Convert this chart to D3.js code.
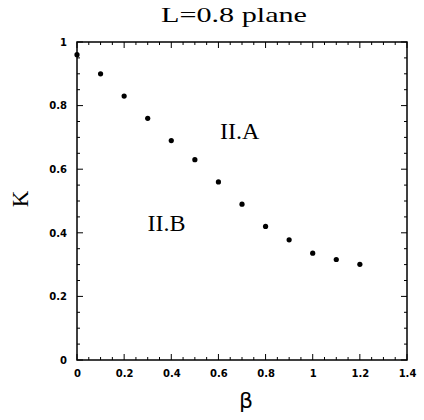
<!DOCTYPE html>
<html>
<head>
<meta charset="utf-8">
<script src="https://cdn.jsdelivr.net/npm/d3@7"></script>
<style>
  body { margin: 0; background: #fff; }
  .tick text { font-family: "DejaVu Sans", sans-serif; font-weight: bold; font-size: 10px; }
</style>
</head>
<body>
<svg id="chart"></svg>
<script>
const beta = [0, 0.1, 0.2, 0.3, 0.4, 0.5, 0.6, 0.7, 0.8, 0.9, 1.0, 1.1, 1.2];
const kValues = [0.96, 0.90, 0.83, 0.76, 0.69, 0.63, 0.56, 0.49, 0.42, 0.378, 0.336, 0.316, 0.301];
const xTicks = [0, 0.2, 0.4, 0.6, 0.8, 1, 1.2, 1.4];
const yTicks = [0, 0.2, 0.4, 0.6, 0.8, 1];
const regions = [{name: "II.A", b: 0.69, k: 0.695}, {name: "II.B", b: 0.38, k: 0.405}];

const width = 424, height = 420;
const margin = {top : 42, left : 77, bottom : 60, right : 17};

const svg = d3.select("#chart").attr("width", width).attr("height", height);

const x = d3.scaleLinear().domain([0, 1.4]).range([margin.left, width - margin.right]);
const y = d3.scaleLinear().domain([0, 1]).range([height - margin.bottom, margin.top]);

const minorX = d3.range(0, 1.4001, 0.05);
const minorY = d3.range(0, 1.0001, 0.05);
const isMajor = v => Math.abs(v * 5 - Math.round(v * 5)) < 1e-6;
const tickLen = v => isMajor(v) ? 6 : 3;

// frame
svg.append("rect")
    .attr("x", x(0)).attr("y", y(1))
    .attr("width", x(1.4) - x(0)).attr("height", y(0) - y(1))
    .attr("fill", "none").attr("stroke", "#000").attr("stroke-width", 1.5);

// inward ticks on all four sides
svg.append("g").selectAll("line").data(minorX).join("line")
    .attr("x1", d => x(d)).attr("x2", d => x(d))
    .attr("y1", y(0)).attr("y2", d => y(0) - tickLen(d))
    .attr("stroke", "#000");
svg.append("g").selectAll("line").data(minorX).join("line")
    .attr("x1", d => x(d)).attr("x2", d => x(d))
    .attr("y1", y(1)).attr("y2", d => y(1) + tickLen(d))
    .attr("stroke", "#000");
svg.append("g").selectAll("line").data(minorY).join("line")
    .attr("y1", d => y(d)).attr("y2", d => y(d))
    .attr("x1", x(0)).attr("x2", d => x(0) + tickLen(d))
    .attr("stroke", "#000");
svg.append("g").selectAll("line").data(minorY).join("line")
    .attr("y1", d => y(d)).attr("y2", d => y(d))
    .attr("x1", x(1.4)).attr("x2", d => x(1.4) - tickLen(d))
    .attr("stroke", "#000");

// tick labels
svg.append("g")
    .attr("transform", `translate(0,${y(0)})`)
    .call(d3.axisBottom(x).tickValues(xTicks).tickSize(0).tickPadding(10).tickFormat(d3.format("~g")))
    .call(g => g.select(".domain").remove());

svg.append("g")
    .attr("transform", `translate(${x(0)},0)`)
    .call(d3.axisLeft(y).tickValues(yTicks).tickSize(0).tickPadding(10).tickFormat(d3.format("~g")))
    .call(g => g.select(".domain").remove());

// points
svg.append("g").selectAll("circle").data(beta).join("circle")
    .attr("cx", d => x(d))
    .attr("cy", (d, i) => y(kValues[i]))
    .attr("r", 2.6)
    .attr("fill", "#000");

// region labels
svg.append("g").selectAll("text").data(regions).join("text")
    .attr("x", d => x(d.b)).attr("y", d => y(d.k))
    .attr("text-anchor", "middle")
    .attr("font-family", "'Liberation Serif', serif")
    .attr("font-size", 24)
    .text(d => d.name);

// title
svg.append("text")
    .attr("x", 234).attr("y", 22)
    .attr("text-anchor", "middle")
    .attr("font-family", "'Liberation Serif', serif")
    .attr("font-size", 22)
    .attr("textLength", 146)
    .attr("lengthAdjust", "spacingAndGlyphs")
    .text("L=0.8  plane");

// axis labels
svg.append("text")
    .attr("x", 246).attr("y", 408)
    .attr("text-anchor", "middle")
    .attr("font-family", "'DejaVu Sans', sans-serif")
    .attr("font-size", 22)
    .text("β");

svg.append("text")
    .attr("transform", "translate(28,199) rotate(-90)")
    .attr("text-anchor", "middle")
    .attr("font-family", "'Liberation Serif', serif")
    .attr("font-size", 23)
    .text("K");
</script>
</body>
</html>
